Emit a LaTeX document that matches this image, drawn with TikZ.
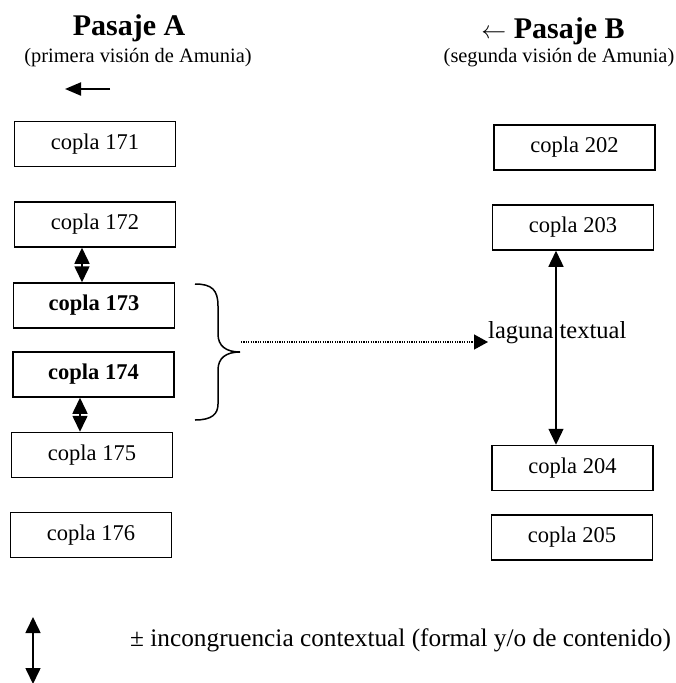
\documentclass[tikz,border=0pt]{standalone}
\usepackage{fontspec}
\setmainfont{Liberation Serif}
\usetikzlibrary{arrows.meta,calc}
\tikzset{
  copla/.style={draw, line width=1.5pt, minimum width=161pt, minimum height=45pt, inner sep=0pt,
    font=\fontsize{22.5}{27}\selectfont},
  coplabold/.style={copla, font=\bfseries\fontsize{22.5}{27}\selectfont},
  dbl/.style={line width=1.6pt, {Triangle[length=16pt,width=15pt]}-{Triangle[length=16pt,width=15pt]}},
  onehead/.style={line width=2pt, -{Triangle[length=16pt,width=13pt]}},
  dots/.style={line width=1.3pt, dash pattern=on 1.2pt off 1.2pt, -{Triangle[length=14pt,width=15pt]}},
  title/.style={font=\bfseries\fontsize{30}{36}\selectfont, inner sep=0pt},
  subtitle/.style={font=\fontsize{20.4}{24}\selectfont, inner sep=0pt},
  brace/.style={line width=1.5pt}
}
\begin{document}
\begin{tikzpicture}[x=1pt,y=-1pt]
\useasboundingbox (0,0) rectangle (676,683);
% headers
\node[title, anchor=base] (pa) at (129,35) {Pasaje A};
\node[subtitle] (sa) at (138,58) {(primera visión de Amunia)};
\node[title, anchor=base] (pb) at (553,38) {$\leftarrow$ Pasaje B};
\node[subtitle] (sb) at (559,58) {(segunda visión de Amunia)};
\coordinate (la1) at (110,89);
\coordinate (la2) at (65,89);
\draw[onehead] (la1) -- (la2);
% left column
\node[copla] (b171) at (95,144) {copla 171};
\node[copla] (b172) at (95,224.5) {copla 172};
\node[coplabold] (b173) at (94,305.5) {copla 173};
\node[coplabold] (b174) at (93.5,374.5) {copla 174};
\node[copla] (b175) at (92,455) {copla 175};
\node[copla] (b176) at (91,535) {copla 176};
% right column
\node[copla] (b202) at (574.5,147.5) {copla 202};
\node[copla] (b203) at (573,227.5) {copla 203};
\node[copla] (b204) at (572.5,468) {copla 204};
\node[copla] (b205) at (572,537.5) {copla 205};
% arrows left
\coordinate (ax1) at (82,0);
\coordinate (ax2) at (80,0);
\draw[dbl] (b172.south -| ax1) -- (b173.north -| ax1);
\draw[dbl] (b174.south -| ax2) -- (b175.north -| ax2);
% brace
\coordinate (btop) at (195,284);
\coordinate (bbot) at (195,420);
\coordinate (btip) at (240,352);
\draw[brace] (btop) .. controls (212,284) and (218,290) .. (218,306) -- (218,334)
  .. controls (218,346) and (226,352) .. (btip)
  .. controls (226,352) and (218,358) .. (218,370) -- (218,404)
  .. controls (218,414) and (212,420) .. (bbot);
% laguna textual
\node[font=\fontsize{24.5}{29}\selectfont, inner sep=0pt, anchor=west] (lag) at (488,333) {laguna textual};
\coordinate (dstart) at (241,342);
\draw[dots] (dstart) -- (lag.west |- dstart);
\coordinate (rx) at (556,0);
\draw[dbl, line width=1.4pt] (b203.south -| rx) -- (b204.north -| rx);
% legend
\coordinate (l1) at (33,617);
\coordinate (l2) at (33,684);
\draw[dbl] (l1) -- (l2);
\node[font=\fontsize{25.3}{30}\selectfont, inner sep=0pt, anchor=west] (leg) at (130,640) {± incongruencia contextual (formal y/o de contenido)};
\end{tikzpicture}
\end{document}
